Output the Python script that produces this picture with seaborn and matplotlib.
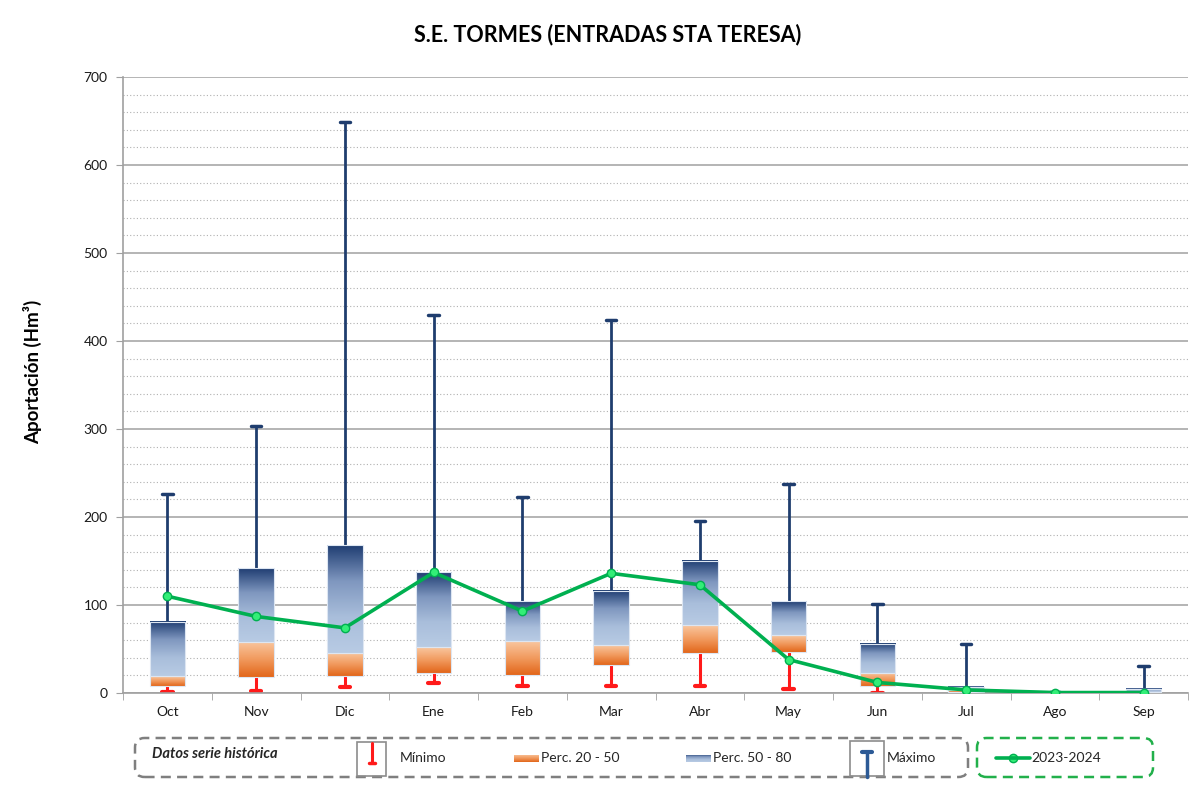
import numpy as np
import matplotlib
matplotlib.use("Agg")
import matplotlib.pyplot as plt
from matplotlib.colors import LinearSegmentedColormap
from matplotlib.patches import FancyBboxPatch, Rectangle
from matplotlib.lines import Line2D
import seaborn as sns

# monthly data (Hm3)
months = ["Oct", "Nov", "Dic", "Ene", "Feb", "Mar", "Abr", "May", "Jun", "Jul", "Ago", "Sep"]
minimo = [1, 2, 7, 11, 8, 8, 8, 5, 0.5, 0, 0, 0]
perc20 = [8, 18, 19, 23, 21, 32, 46, 47, 8, 1, 0, 0.3]
perc50 = [19, 58, 46, 52, 59, 54, 77, 66, 23, 3, 0.2, 1]
perc80 = [81, 142, 168, 137, 104, 116, 150, 104, 56, 7, 0.5, 5]
maximo = [226, 303, 649, 430, 223, 424, 195, 237, 101, 56, 1, 31]
actual = [110, 87, 74, 137, 93, 136, 123, 38, 12, 3.5, 0.5, 0.5]

sns.set_style("white")
plt.rcParams['font.family'] = ['Lato', 'DejaVu Sans']

W, H = 1197, 789
fig = plt.figure(figsize=(W / 100, H / 100), dpi=100)


def fx(px):
    return px / W


def fy(py):
    return 1 - py / H


ax = fig.add_axes([fx(123), fy(693), fx(1188) - fx(123), fy(77) - fy(693)])

blue_cmap = LinearSegmentedColormap.from_list("azul", ["#b8cbe4", "#a9bedb", "#7f97bf", "#1f3d72"])
orange_cmap = LinearSegmentedColormap.from_list("naranja", ["#e2661a", "#f19a5e", "#f9c7a0"])
grad = np.linspace(0, 1, 256).reshape(-1, 1)

x = np.arange(len(months))
bw = 0.4

# percentile boxes with gradient fill
for i in x:
    for lo, hi, cmap in [(perc20[i], perc50[i], orange_cmap), (perc50[i], perc80[i], blue_cmap)]:
        if hi - lo <= 0:
            continue
        ax.imshow(grad, cmap=cmap, origin="lower", aspect="auto",
                  extent=[i - bw / 2, i + bw / 2, lo, hi], zorder=3)
        ax.add_patch(Rectangle((i - bw / 2, lo), bw, hi - lo, fill=False,
                               edgecolor="#dde6f2", lw=0.8, zorder=3.5))

# whiskers: max (navy) and min (red)
cap = 0.06
for i in x:
    if maximo[i] > perc80[i]:
        ax.plot([i, i], [perc80[i], maximo[i]], color="#1f3d6e", lw=2, zorder=2.5)
        ax.plot([i - cap, i + cap], [maximo[i], maximo[i]], color="#1f3d6e", lw=2.5, zorder=2.5)
    if perc20[i] > minimo[i] and perc20[i] - minimo[i] > 2:
        ax.plot([i, i], [minimo[i], perc20[i]], color="#ff1a1a", lw=2.2, zorder=2.5)
        ax.plot([i - cap, i + cap], [minimo[i], minimo[i]], color="#ff1a1a", lw=3, zorder=2.5)

# current year
sns.lineplot(x=x, y=actual, ax=ax, color="#00b050", lw=2.6, marker="o", markersize=6,
             markerfacecolor="#33ee77", markeredgecolor="#00b050", markeredgewidth=1, zorder=5)

ax.set_xlim(-0.5, 11.5)
ax.set_ylim(0, 700)
ax.set_yticks(np.arange(0, 701, 100))
ax.set_yticks(np.arange(0, 701, 20), minor=True)
ax.grid(axis="y", which="major", color="#a0a0a0", lw=1.1, zorder=0)
ax.grid(axis="y", which="minor", color="#b0b0b0", lw=0.8, ls=(0, (1, 2)), zorder=0)
ax.set_axisbelow(True)
ax.set_xticks(x)
ax.set_xticklabels(months)
ax.set_xticks(np.arange(-0.5, 12, 1), minor=True)
ax.tick_params(axis="x", which="major", length=0, labelsize=10, pad=9, colors="#1a1a1a")
ax.tick_params(axis="x", which="minor", length=5, color="#a0a0a0", direction="out", bottom=True)
ax.tick_params(axis="y", which="major", length=5, color="#a0a0a0", labelsize=10, pad=6,
               colors="#1a1a1a", direction="out", left=True)
ax.tick_params(axis="y", which="minor", length=0)
for s in ["top", "right"]:
    ax.spines[s].set_visible(False)
for s in ["left", "bottom"]:
    ax.spines[s].set_color("#a0a0a0")
    ax.spines[s].set_linewidth(1.2)
ax.set_ylabel("")
ax.set_xlabel("")

fig.text(fx(608), fy(35), "S.E. TORMES (ENTRADAS STA TERESA)", ha="center", va="center",
         fontsize=15.5, fontweight="bold", color="#000000")
fig.text(fx(33), fy(372), "Aportación (Hm³)", ha="center", va="center", rotation=90,
         fontsize=13.5, fontweight="bold", color="#000000")

# legend boxes
box1 = FancyBboxPatch((fx(135), fy(777)), fx(968) - fx(135), fy(738) - fy(777),
                      boxstyle="round,pad=0,rounding_size=0.008", transform=fig.transFigure,
                      fill=False, edgecolor="#7f7f7f", lw=1.8, ls=(0, (4, 2.5)), mutation_aspect=1.5)
box2 = FancyBboxPatch((fx(977), fy(777)), fx(1153) - fx(977), fy(738) - fy(777),
                      boxstyle="round,pad=0,rounding_size=0.008", transform=fig.transFigure,
                      fill=False, edgecolor="#22b04b", lw=1.8, ls=(0, (4, 2.5)), mutation_aspect=1.5)
fig.patches.extend([box1, box2])

fig.text(fx(152), fy(754), "Datos serie histórica", ha="left", va="center", fontsize=10.5,
         fontweight="bold", style="italic")

# icon min
fig.patches.append(Rectangle((fx(357), fy(776)), fx(386) - fx(357), fy(742) - fy(776),
                             transform=fig.transFigure, fill=False, edgecolor="#8c8c8c", lw=1.2))
fig.lines.append(Line2D([fx(371.5), fx(371.5)], [fy(743), fy(763)], transform=fig.transFigure,
                        color="#ff1a1a", lw=2.2))
fig.lines.append(Line2D([fx(368.5), fx(374.5)], [fy(763), fy(763)], transform=fig.transFigure,
                        color="#ff1a1a", lw=2.5))
fig.text(fx(400), fy(758), "Mínimo", ha="left", va="center", fontsize=10)

# gradient patches
for x0, cmap, lab in [(514, orange_cmap, "Perc. 20 - 50"), (686, blue_cmap, "Perc. 50 - 80")]:
    pax = fig.add_axes([fx(x0), fy(762), fx(x0 + 25) - fx(x0), fy(755) - fy(762)])
    pax.imshow(grad, cmap=cmap, origin="lower", aspect="auto")
    pax.axis("off")
    fig.text(fx(x0 + 27), fy(758), lab, ha="left", va="center", fontsize=10)

# icon max
fig.patches.append(Rectangle((fx(850), fy(776)), fx(884) - fx(850), fy(741) - fy(776),
                             transform=fig.transFigure, fill=False, edgecolor="#8c8c8c", lw=1.2))
fig.lines.append(Line2D([fx(867), fx(867)], [fy(752), fy(777)], transform=fig.transFigure,
                        color="#2c5a96", lw=2.5))
fig.lines.append(Line2D([fx(862), fx(872)], [fy(752), fy(752)], transform=fig.transFigure,
                        color="#2c5a96", lw=3))
fig.text(fx(887), fy(758), "Máximo", ha="left", va="center", fontsize=10)

# current year legend entry
fig.lines.append(Line2D([fx(996), fx(1030)], [fy(758), fy(758)], transform=fig.transFigure,
                        color="#00b050", lw=2.6, zorder=5))
fig.lines.append(Line2D([fx(1013)], [fy(758)], transform=fig.transFigure, marker="o",
                        markersize=6, markerfacecolor="#33ee77", markeredgecolor="#00b050",
                        color="#00b050", lw=0))
fig.text(fx(1031), fy(758), "2023-2024", ha="left", va="center", fontsize=10)

plt.savefig("out.png", dpi=100)
